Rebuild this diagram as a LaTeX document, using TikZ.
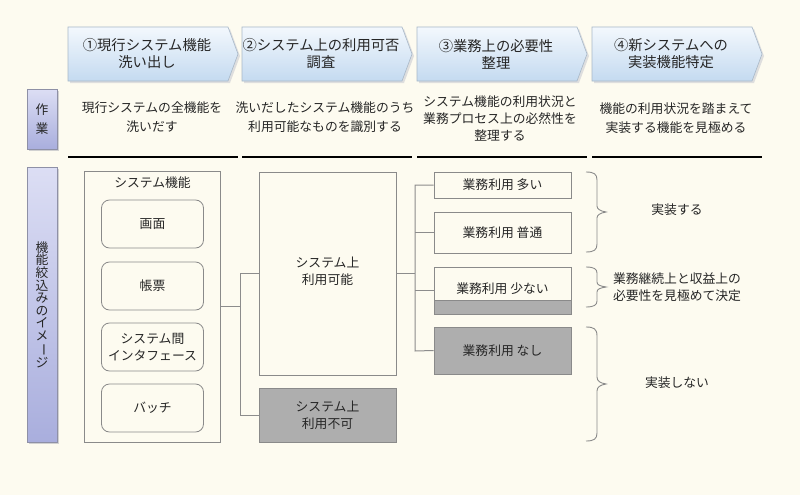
\documentclass[tikz,border=0pt]{standalone}
\usepackage{fontspec}
\setmainfont{Noto Sans CJK JP}
\usepackage{graphicx}
\definecolor{bg}{HTML}{FDFBF0}
\definecolor{chevtop}{HTML}{F3F8FD}
\definecolor{chevbot}{HTML}{C4DAF0}
\definecolor{chevline}{HTML}{A8B8C8}
\definecolor{labtop}{HTML}{DCDEF4}
\definecolor{labbot}{HTML}{A9AEDD}
\definecolor{labline}{HTML}{8E90A6}
\definecolor{boxline}{HTML}{8A8A8A}
\definecolor{connline}{HTML}{8C8C8C}
\definecolor{grayfill}{HTML}{AEAEAE}
\begin{document}
\begin{tikzpicture}[x=1pt,y=-1pt,
  txt/.style={font=\fontsize{12.8}{18.5}\selectfont, align=center, inner sep=0pt, text=black!85},
  chevtxt/.style={font=\fontsize{14.3}{17}\selectfont, align=center, inner sep=0pt, text=black!85},
  smalltxt/.style={font=\fontsize{12.8}{17}\selectfont, align=center, inner sep=0pt, text=black!85},
  plainbox/.style={draw=boxline, line width=0.8pt, fill=bg},
  graybox/.style={draw=boxline, line width=0.8pt, fill=grayfill},
  roundbox/.style={draw=boxline, line width=0.8pt, fill=bg, rounded corners=8pt},
  conn/.style={draw=connline, line width=1pt},
  bracestyle/.style={draw=boxline, line width=0.9pt},
  rule/.style={draw=black, line width=1.2pt},
  chevshade/.style={top color=chevtop, bottom color=chevbot, draw=chevline, line width=0.6pt},
  labshade/.style={top color=labtop, bottom color=labbot, draw=labline, line width=0.8pt}
]
\useasboundingbox[fill=bg] (0,0) rectangle (800,495);

% chevrons
\foreach \L/\nm in {68/c1, 242/c2, 417/c3, 592/c4}{
  \fill[black!13] (\L+2,29) -- (\L+160+2,29) -- (\L+170+2,56) -- (\L+160+2,83) -- (\L+2,83) -- cycle;
  \path[chevshade] (\L,27) -- (\L+160,27) -- (\L+170,54) -- (\L+160,81) -- (\L,81) -- cycle;
}
\node[chevtxt] (t1) at (147,54) {①現行システム機能\\洗い出し};
\node[chevtxt] (t2) at (321,54) {②システム上の利用可否\\調査};
\node[chevtxt] (t3) at (496,54) {③業務上の必要性\\整理};
\node[chevtxt] (t4) at (671,54) {④新システムへの\\実装機能特定};

% side labels
\fill[black!18] (29,91) rectangle (59,151);
\path[labshade] (27,89) rectangle (57,149);
\node[txt] (lab1) at (42,119) {作\\業};
\fill[black!18] (29,169) rectangle (59,444);
\path[labshade] (27,167) rectangle (57,442);
\node[txt, font=\fontsize{12.8}{12.6}\selectfont] (lab2) at (42,305) {機\\能\\絞\\込\\み\\の\\イ\\メ\\\rotatebox[origin=c]{-90}{ー}\\ジ};

% task texts
\node[txt] (w1) at (152,117) {現行システムの全機能を\\洗いだす};
\node[txt] (w2) at (325,117) {洗いだしたシステム機能のうち\\利用可能なものを識別する};
\node[txt, font=\fontsize{12.8}{17}\selectfont] (w3) at (500,118) {システム機能の利用状況と\\業務プロセス上の必然性を\\整理する};
\node[txt] (w4) at (676,118) {機能の利用状況を踏まえて\\実装する機能を見極める};

% rules
\foreach \L in {68,242,417,592}{
  \draw[rule] (\L,157) -- (\L+170,157);
}

% system function box
\node[plainbox, minimum width=136pt, minimum height=271pt, inner sep=0pt] (sys) at (152.5,306.5) {};
\node[smalltxt] (systitle) at (152.5,183) {システム機能};
\node[roundbox, minimum width=102pt, minimum height=48pt, inner sep=0pt, smalltxt] (f1) at (152.5,224) {画面};
\node[roundbox, minimum width=102pt, minimum height=48pt, inner sep=0pt, smalltxt] (f2) at (152.5,286) {帳票};
\node[roundbox, minimum width=102pt, minimum height=48pt, inner sep=0pt, smalltxt] (f3) at (152.5,347) {システム間\\インタフェース};
\node[roundbox, minimum width=102pt, minimum height=48pt, inner sep=0pt, smalltxt] (f4) at (152.5,408) {バッチ};

% usable / not usable
\node[plainbox, minimum width=137pt, minimum height=203pt, inner sep=0pt] (ok) at (327.5,273.5) {};
\node[smalltxt] (oktxt) at (327.5,271) {システム上\\利用可能};
\node[graybox, minimum width=137pt, minimum height=54pt, inner sep=0pt] (ng) at (327.5,415) {};
\node[smalltxt] (ngtxt) at (327.5,415) {システム上\\利用不可};

\coordinate (j1) at (240,306);
\draw[conn] (sys.east |- j1) -- (j1);
\draw[conn] (ok.west |- 0,273) -- (240,273) -- (240,415) -- (ng.west);

% business usage boxes
\node[plainbox, minimum width=137pt, minimum height=26pt, inner sep=0pt, smalltxt] (b1) at (502.5,185) {業務利用 多い};
\node[plainbox, minimum width=137pt, minimum height=41pt, inner sep=0pt, smalltxt] (b2) at (502.5,232.5) {業務利用 普通};
\fill[grayfill] (434,300) rectangle (571,314);
\node[draw=boxline, line width=0.8pt, minimum width=137pt, minimum height=47pt, inner sep=0pt] (b3) at (502.5,290.5) {};
\draw[boxline, line width=0.8pt] (434,300) -- (571,300);
\node[smalltxt] (b3txt) at (502.5,289) {業務利用 少ない};
\node[graybox, minimum width=137pt, minimum height=47pt, inner sep=0pt, smalltxt] (b4) at (502.5,350.5) {業務利用 なし};

\draw[conn] (ok.east |- 0,273) -- (415,273);
\draw[conn] (b1.west) -- (415,185) -- (415,351) -- (b4.west);
\draw[conn] (b2.west) -- (415,232.5);
\draw[conn] (b3.west |- 0,290) -- (415,290);

% braces
\draw[bracestyle] (586,172) .. controls (594,172) and (597,174) .. (597,180) -- (597,206) .. controls (597,209) and (600,211) .. (606,212) .. controls (600,213) and (597,215) .. (597,218) -- (597,244) .. controls (597,250) and (594,252) .. (586,252);
\draw[bracestyle] (586,267) .. controls (594,267) and (597,269) .. (597,273) -- (597,282) .. controls (597,285) and (600,286) .. (606,287) .. controls (600,288) and (597,289) .. (597,292) -- (597,301) .. controls (597,305) and (594,307) .. (586,307);
\draw[bracestyle] (586,327) .. controls (594,327) and (597,329) .. (597,336) -- (597,377) .. controls (597,381) and (600,383) .. (606,384) .. controls (600,385) and (597,387) .. (597,391) -- (597,433) .. controls (597,439) and (594,441) .. (586,441);

\node[smalltxt] (r1) at (677,210) {実装する};
\node[smalltxt] (r2) at (677,287) {業務継続上と収益上の\\必要性を見極めて決定};
\node[smalltxt] (r3) at (677,383) {実装しない};
\end{tikzpicture}
\end{document}
